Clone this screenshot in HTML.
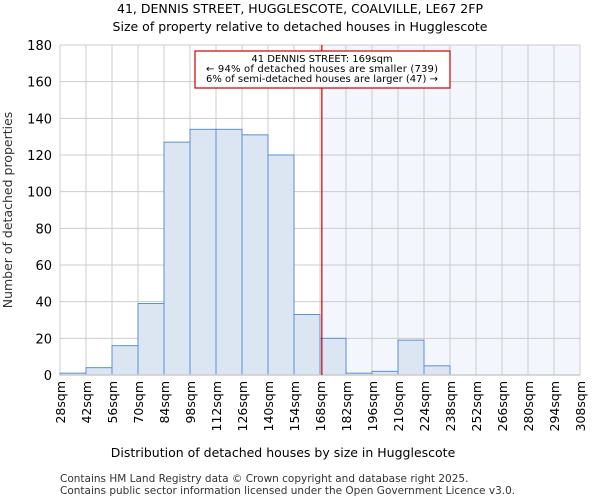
<!DOCTYPE html>
<html><head><meta charset="utf-8"><style>
body{margin:0;background:#fff;font-family:"DejaVu Sans","Liberation Sans",sans-serif}
</style></head><body>
<svg id="c" width="600" height="500" xmlns="http://www.w3.org/2000/svg" font-family="DejaVu Sans, Liberation Sans, sans-serif">
<text x="300" y="13" text-anchor="middle" font-size="12.5">41, DENNIS STREET, HUGGLESCOTE, COALVILLE, LE67 2FP</text>
<text x="300" y="31" text-anchor="middle" font-size="12.5">Size of property relative to detached houses in Hugglescote</text>
<g id="plot"></g>
<text x="283" y="457" text-anchor="middle" font-size="12.5">Distribution of detached houses by size in Hugglescote</text>
<text transform="translate(12,210) rotate(-90)" text-anchor="middle" font-size="12.5" fill="#333">Number of detached properties</text>
<text x="60" y="482" font-size="10.5" fill="#333">Contains HM Land Registry data © Crown copyright and database right 2025.</text>
<text x="60" y="494" font-size="10.5" fill="#333">Contains public sector information licensed under the Open Government Licence v3.0.</text>
</svg>
<script>
const binStarts=[28,42,56,70,84,98,112,126,140,154,168,182,196,210,224,238,252,266,280,294];
const counts=[1,4,16,39,127,134,134,131,120,33,20,1,2,19,5,0,0,0,0,0];
const yTicks=[0,20,40,60,80,100,120,140,160,180];
const xTickLabels=[28,42,56,70,84,98,112,126,140,154,168,182,196,210,224,238,252,266,280,294,308];
const propertySize=169;
const NS="http://www.w3.org/2000/svg";
const L=60,R=580,T=45,B=375,xMin=28,xMax=308,yMax=180;
const xs=v=>L+(v-xMin)/(xMax-xMin)*(R-L);
const ys=v=>B-v/yMax*(B-T);
const g=document.getElementById('plot');
function mk(tag,attrs){const e=document.createElementNS(NS,tag);for(const k in attrs)e.setAttribute(k,attrs[k]);g.appendChild(e);return e;}
let e=mk('rect',{x:xs(propertySize),y:T,width:R-xs(propertySize),height:B-T,fill:'#f3f6fd'});


yTicks.forEach(t=>{
 let l=mk('line',{x1:L,x2:R,y1:ys(t),y2:ys(t),stroke:'#ccc','stroke-width':1});
 
 
 let tx=mk('text',{x:L-8,y:ys(t)+5,'text-anchor':'end','font-size':13});
 tx.textContent=t;
 
 
});
xTickLabels.forEach(t=>{
 let l=mk('line',{x1:xs(t),x2:xs(t),y1:T,y2:B,stroke:'#ccc','stroke-width':1});
 
 
 let tx=mk('text',{transform:`translate(${xs(t)+5},${B+6}) rotate(-90)`,'text-anchor':'end','font-size':12.5});
 tx.textContent=t+'sqm';
 
 
});
binStarts.forEach((s,i)=>{
 if(counts[i]<=0)return;
 let r=mk('rect',{x:xs(s),y:ys(counts[i]),width:xs(s+14)-xs(s),height:B-ys(counts[i]),fill:'#dce6f3',stroke:'#5b8fd6','stroke-width':1});
 
 
});
e=mk('line',{x1:L,x2:R,y1:B,y2:B,stroke:'#ccc','stroke-width':1.5});


e=mk('line',{x1:xs(propertySize),x2:xs(propertySize),y1:T,y2:B,stroke:'#c00','stroke-width':1.2});


e=mk('rect',{x:195,y:51,width:255,height:37,fill:'#fff',stroke:'#c00','stroke-width':1.2});


["41 DENNIS STREET: 169sqm","← 94% of detached houses are smaller (739)","6% of semi-detached houses are larger (47) →"].forEach((s,i)=>{
 let tx=mk('text',{x:322,y:62+i*10,'text-anchor':'middle','font-size':10,textLength:i==0?null:232});
 if(i==0)tx.removeAttribute('textLength');
 tx.textContent=s;
 
 
});
</script>
</body></html>
